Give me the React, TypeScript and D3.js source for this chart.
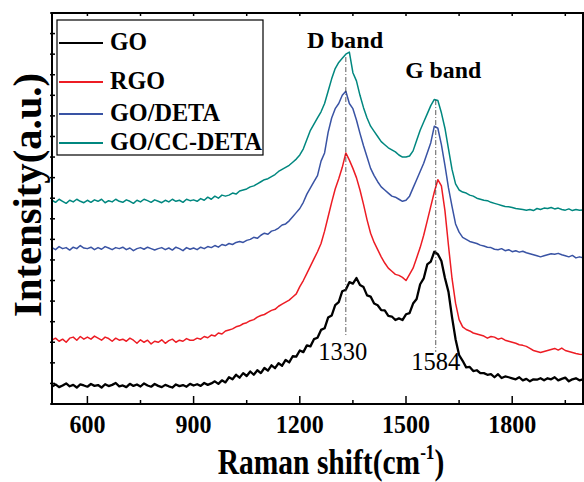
import React from "react";
import * as d3 from "d3";

// Raman shift sampling (cm-1): 500 .. 2000 every 10
const shiftStart = 500;
const shiftEnd = 2000;
const shiftStep = 10;
const ramanShift = d3.range(shiftStart, shiftEnd + 1, shiftStep);

const xTicks = [600, 900, 1200, 1500, 1800];
const xMinorTicks = [750, 1050, 1350, 1650, 1950];

const seriesNames = ["GO", "RGO", "GO/DETA", "GO/CC-DETA"];
const seriesColors = ["#000000", "#ed1c24", "#3953a4", "#00877f"];

// Intensities (a.u., offset-stacked as in the figure)
const goValues = [
  0.85, 0.95, 0.82, 0.9, 1.0, 0.86, 0.93, 0.8, 0.95, 0.9,
  0.84, 0.97, 0.88, 0.92, 0.8, 0.96, 0.87, 0.93, 1.02, 0.86,
  0.9, 0.82, 0.98, 0.88, 0.95, 0.85, 1.0, 0.9, 0.84, 0.97,
  0.88, 0.82, 0.93, 0.86, 0.8, 0.95, 0.87, 0.92, 0.84, 0.98,
  0.9, 0.96, 0.88, 1.02, 0.93, 1.0, 1.1, 0.98, 1.15, 1.05,
  1.3, 1.2, 1.42, 1.28, 1.5, 1.36, 1.58, 1.42, 1.64, 1.5,
  1.75, 1.62, 1.88, 1.74, 1.98, 1.86, 2.14, 2.02, 2.32, 2.3,
  2.6, 2.52, 2.85, 2.8, 3.15, 3.22, 3.6, 3.68, 4.2, 4.3,
  4.8, 4.95, 5.48, 5.55, 5.92, 5.85, 6.12, 5.78, 5.68, 5.28,
  5.22, 4.88, 4.8, 4.56, 4.55, 4.28, 4.25, 4.08, 4.16, 4.08,
  4.36, 4.42, 4.88, 5.1, 5.82, 6.1, 6.78, 6.92, 7.4, 7.28,
  6.95, 6.12, 5.45, 4.22, 3.15, 2.38, 2.1, 1.78, 1.8, 1.6,
  1.64, 1.5, 1.5, 1.42, 1.45, 1.3, 1.45, 1.26, 1.34, 1.3,
  1.25, 1.2, 1.3, 1.15, 1.22, 1.1, 1.2, 1.18, 1.25, 1.15,
  1.25, 1.2, 1.3, 1.15, 1.22, 1.28, 1.1, 1.2, 1.25, 1.15,
  1.2,
];

const rgoValues = [
  3.1, 3.2, 3.05, 3.15, 3.0, 3.2, 3.25, 3.1, 3.28, 3.15,
  3.25, 3.15, 3.3, 3.2, 3.1, 3.25, 3.18, 3.05, 3.2, 3.1,
  3.15, 3.05, 3.2, 3.1, 2.95, 3.12, 3.0, 3.1, 2.92, 3.05,
  3.0, 3.12, 2.95, 3.08, 3.15, 3.0, 3.1, 3.05, 3.18, 3.1,
  3.1, 3.2, 3.15, 3.28, 3.22, 3.35, 3.3, 3.45, 3.4, 3.55,
  3.6, 3.65, 3.75, 3.8, 3.9, 3.95, 4.05, 4.1, 4.22, 4.3,
  4.35, 4.45, 4.55, 4.6, 4.75, 4.85, 4.95, 5.05, 5.2, 5.35,
  5.7, 6.0, 6.35, 6.7, 7.05, 7.4, 7.8, 8.4, 9.1, 9.8,
  10.45, 10.95, 11.5, 12.2, 11.85, 11.45, 11.0, 10.4, 9.7, 8.95,
  8.3, 7.85, 7.5, 7.15, 6.85, 6.6, 6.45, 6.3, 6.25, 6.15,
  6.0, 6.3, 6.6, 7.1, 7.6, 8.2, 8.9, 9.6, 10.3, 10.9,
  10.6, 9.4, 7.7, 6.1, 4.9, 4.1, 3.75, 3.62, 3.55, 3.45,
  3.4, 3.35, 3.3, 3.2, 3.28, 3.25, 3.15, 3.2, 3.1, 3.05,
  3.0, 2.95, 2.88, 2.85, 2.8, 2.7, 2.6, 2.55, 2.5, 2.55,
  2.6, 2.65, 2.7, 2.62, 2.72, 2.6, 2.55, 2.5, 2.45, 2.42,
  2.4,
];

const goDetaValues = [
  7.6, 7.5, 7.65, 7.55, 7.6, 7.48, 7.62, 7.55, 7.7, 7.58,
  7.55, 7.62, 7.5, 7.6, 7.52, 7.65, 7.58, 7.5, 7.6, 7.55,
  7.62, 7.5, 7.58, 7.45, 7.55, 7.6, 7.52, 7.62, 7.55, 7.48,
  7.55, 7.6, 7.5, 7.58, 7.48, 7.62, 7.55, 7.45, 7.6, 7.52,
  7.58, 7.5, 7.62, 7.55, 7.65, 7.6, 7.7, 7.62, 7.75, 7.7,
  7.8, 7.75, 7.85, 7.9, 7.85, 7.95, 8.0, 8.1, 8.05, 8.2,
  8.3, 8.25, 8.4, 8.45, 8.55, 8.7, 8.75, 8.9, 9.1, 9.3,
  9.5, 9.8, 10.2, 10.5, 10.8, 11.1, 11.8, 12.2, 13.2, 13.9,
  14.35, 14.6, 15.0, 15.2, 14.6, 14.35, 13.8, 13.15, 12.55, 12.0,
  11.45, 11.1, 10.8, 10.55, 10.4, 10.25, 10.1, 10.05, 9.95, 9.85,
  9.9, 10.1, 10.5, 10.9, 11.3, 11.7, 12.2, 12.7, 13.5, 13.4,
  12.6, 11.6, 10.5, 9.6, 8.75, 8.35, 8.1, 8.0, 7.9, 7.85,
  7.8, 7.72, 7.68, 7.62, 7.6, 7.52, 7.5, 7.55, 7.45, 7.5,
  7.4, 7.45, 7.38, 7.42, 7.35, 7.3, 7.25, 7.2, 7.15, 7.2,
  7.25, 7.3, 7.28, 7.32, 7.25, 7.2, 7.15, 7.22, 7.1, 7.15,
  7.1,
];

const goCcDetaValues = [
  9.9, 9.8, 9.95, 9.85, 9.75, 9.9, 9.82, 9.95, 9.85, 9.78,
  9.9, 9.8, 9.92, 9.85, 9.95, 9.78, 9.88, 9.82, 9.95, 9.85,
  9.8, 9.92, 9.85, 9.75, 9.9, 9.82, 9.95, 9.88, 9.8, 9.92,
  9.85, 9.78, 9.9, 9.82, 9.95, 9.85, 9.9, 9.8, 9.95, 9.88,
  9.92, 9.85, 9.98, 9.9, 10.05, 9.95, 10.1, 10.0, 10.15, 10.1,
  10.15, 10.25, 10.2, 10.35, 10.4, 10.45, 10.55, 10.6, 10.7, 10.8,
  10.9, 10.95, 11.05, 11.15, 11.3, 11.4, 11.5, 11.6, 11.75, 11.9,
  12.1, 12.4, 12.85, 13.3, 13.6, 13.9, 14.2, 14.6, 15.2, 15.8,
  16.3, 16.6, 16.8, 17.0, 17.1, 16.1, 15.7, 15.0, 14.4, 13.9,
  13.5, 13.25, 13.0, 12.75, 12.6, 12.45, 12.35, 12.25, 12.1, 12.0,
  12.0, 12.05, 12.3, 12.8, 13.3, 13.7, 14.1, 14.5, 14.8, 14.75,
  14.15, 13.4, 12.4, 11.4, 10.7, 10.4, 10.3, 10.25, 10.15, 10.1,
  10.0, 9.95, 9.9, 9.88, 9.8, 9.75, 9.7, 9.65, 9.6, 9.58,
  9.55, 9.5, 9.48, 9.45, 9.42, 9.45, 9.4, 9.5, 9.45, 9.52,
  9.5, 9.55, 9.48, 9.52, 9.45, 9.42, 9.48, 9.4, 9.45, 9.42,
  9.43,
];

const seriesValues = [goValues, rgoValues, goDetaValues, goCcDetaValues];

// Peak annotations
const peakPositions = [1330, 1584];
const peakLabels = ["1330", "1584"];
const peakLineTop = [16.86, 14.77];
const peakLineBottom = [3.26, 2.53];
const bandLabels = ["D band", "G band"];
const bandLabelX = [1328, 1605];
const bandLabelY = [17.3, 15.84];

const yMax = 19;
const yTicks = d3.range(0, yMax + 1, 1);

const W = 584;
const H = 482;
const left = 52;
const right = 583;
const top = 13;
const bottom = 404;
const FONT = "'Liberation Serif', 'Times New Roman', serif";

export default function App() {
  const x = d3.scaleLinear().domain([shiftStart, shiftEnd]).range([left, right]);
  const y = d3.scaleLinear().domain([0, yMax]).range([bottom, top]);
  const line = d3
    .line<number>()
    .x((_, i) => x(ramanShift[i]))
    .y((d) => y(d));

  const drawOrder = [3, 2, 1, 0];
  const legendY = [43, 82, 114, 143];
  const legendW = [37, 55, 110, 152];

  return (
    <svg
      width={W}
      height={H}
      style={{ position: "absolute", left: 0, top: 0, background: "#fff" }}
      fontFamily={FONT}
    >
      <rect x={0} y={0} width={W} height={H} fill="#fff" />
      <defs>
        <clipPath id="clip">
          <rect x={left} y={top} width={right - left} height={bottom - top} />
        </clipPath>
      </defs>
      {/* series */}
      <g clipPath="url(#clip)">
        {drawOrder.map((s) => (
          <path
            key={s}
            d={line(seriesValues[s]) || ""}
            fill="none"
            stroke={seriesColors[s]}
            strokeWidth={s === 0 ? 2.3 : 1.5}
            strokeLinejoin="round"
          />
        ))}
      </g>

      {/* peak dashed lines */}
      {peakPositions.map((p, i) => (
        <line
          key={"pl" + i}
          x1={x(p)}
          x2={x(p)}
          y1={y(peakLineTop[i])}
          y2={y(peakLineBottom[i])}
          stroke="#333"
          strokeWidth={0.8}
          strokeDasharray="5,2,1,2"
        />
      ))}
      {peakPositions.map((p, i) => (
        <text
          key={"plab" + i}
          x={x(p) + (i === 0 ? -3 : 0)}
          y={y(peakLineBottom[i]) + (i === 0 ? 23 : 18)}
          textAnchor="middle"
          fontSize={26}
          textLength={49}
          lengthAdjust="spacingAndGlyphs"
          fill="#000"
        >
          {peakLabels[i]}
        </text>
      ))}
      {bandLabels.map((b, i) => (
        <text
          key={"band" + i}
          x={x(bandLabelX[i])}
          y={y(bandLabelY[i])}
          textAnchor="middle"
          fontSize={23}
          fontWeight="bold"
          textLength={76}
          lengthAdjust="spacingAndGlyphs"
        >
          {b}
        </text>
      ))}

      {/* frame */}
      <rect
        x={left}
        y={top}
        width={right - left}
        height={bottom - top}
        fill="none"
        stroke="#000"
        strokeWidth={2}
      />
      {/* bottom ticks (inward) */}
      {xTicks.map((t) => (
        <line key={"bt" + t} x1={x(t)} x2={x(t)} y1={bottom} y2={bottom - 8} stroke="#000" strokeWidth={1.5} />
      ))}
      {xMinorTicks.map((t) => (
        <line key={"bm" + t} x1={x(t)} x2={x(t)} y1={bottom} y2={bottom - 4} stroke="#000" strokeWidth={1.5} />
      ))}
      {/* top ticks */}
      {[...xTicks, ...xMinorTicks].map((t) => (
        <line key={"tt" + t} x1={x(t)} x2={x(t)} y1={top} y2={top + 3} stroke="#000" strokeWidth={1.5} />
      ))}
      {/* left ticks */}
      {yTicks.map((t) => (
        <line key={"lt" + t} x1={left - 2} x2={left + 3} y1={y(t)} y2={y(t)} stroke="#000" strokeWidth={1.5} />
      ))}
      {/* tick labels */}
      {xTicks.map((t) => (
        <text
          key={"tl" + t}
          x={x(t)}
          y={433}
          textAnchor="middle"
          fontSize={26}
          fontWeight="bold"
          textLength={String(t).length * 12}
          lengthAdjust="spacingAndGlyphs"
        >
          {t}
        </text>
      ))}

      {/* axis titles */}
      <g transform={`translate(331,474) scale(0.82,1)`}>
        <text textAnchor="middle" fontSize={36} fontWeight="bold">
          Raman shift(cm
          <tspan fontSize={21} dy={-15}>-1</tspan>
          <tspan dy={15}>)</tspan>
        </text>
      </g>
      <text
        transform={`translate(41,195) rotate(-90)`}
        textAnchor="middle"
        fontSize={40}
        fontWeight="bold"
        textLength={244}
        lengthAdjust="spacingAndGlyphs"
      >
        Intensity(a.u.)
      </text>

      {/* legend */}
      <rect x={57} y={20} width={206} height={135} fill="#fff" stroke="#000" strokeWidth={1.2} />
      {seriesNames.map((n, i) => (
        <g key={"lg" + i}>
          <line x1={59} x2={103} y1={legendY[i]} y2={legendY[i]} stroke={seriesColors[i]} strokeWidth={2} />
          <text
            x={110}
            y={legendY[i] + 7}
            fontSize={26}
            fontWeight="bold"
            textLength={legendW[i]}
            lengthAdjust="spacingAndGlyphs"
          >
            {n}
          </text>
        </g>
      ))}
    </svg>
  );
}
